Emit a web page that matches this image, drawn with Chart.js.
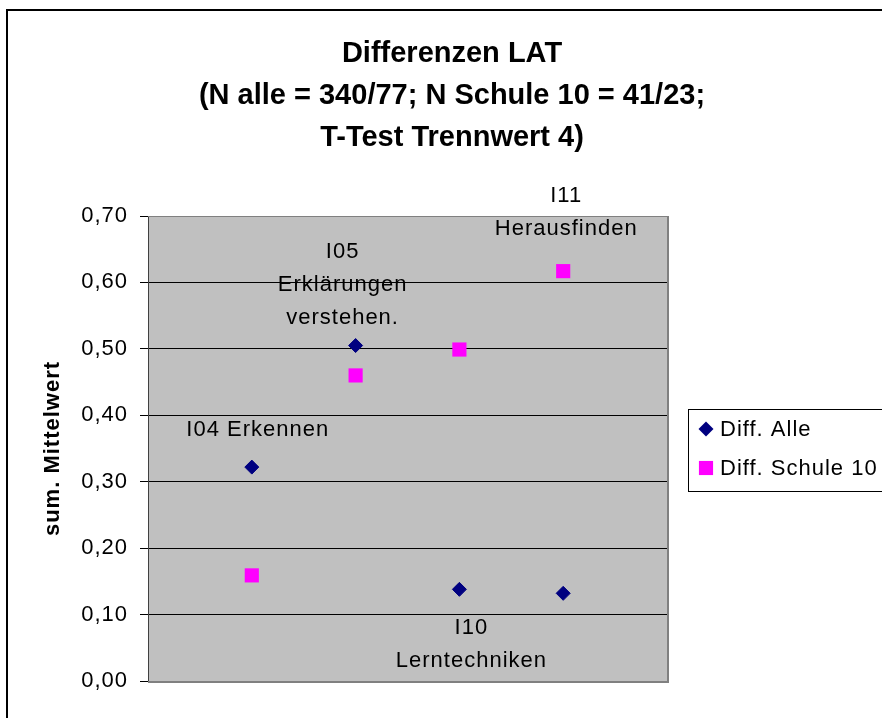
<!DOCTYPE html>
<html>
<head>
<meta charset="utf-8">
<script src="https://cdn.jsdelivr.net/npm/chart.js@4/dist/chart.umd.min.js"></script>
<style>
  html, body { margin: 0; padding: 0; background: #fff; overflow: hidden; }
  #wrap { width: 882px; height: 718px; position: relative; }
</style>
</head>
<body>
<div id="wrap"><canvas id="lat" width="882" height="718"></canvas></div>
<script>
// chart data
var titleLines = ['Differenzen LAT', '(N alle = 340/77; N Schule 10 = 41/23;', 'T-Test Trennwert 4)'];
var itemPos = [1, 2, 3, 4];
var itemLabels = [['I04 Erkennen'], ['I05', 'Erklärungen', 'verstehen.'], ['I10', 'Lerntechniken'], ['I11', 'Herausfinden']];
var diffAlle = [0.322, 0.505, 0.138, 0.132];
var diffSchule10 = [0.159, 0.460, 0.499, 0.617];
var seriesNames = ['Diff. Alle', 'Diff. Schule 10'];
var yTicks = [0, 0.1, 0.2, 0.3, 0.4, 0.5, 0.6, 0.7];
var yTitle = 'sum. Mittelwert';

// where each item label sits relative to its point (dataset, offset, above/below)
var labelPlace = [
  { ds: 0, dx: 6, dy: -37, above: true },
  { ds: 0, dx: -13, dy: -28, above: true },
  { ds: 0, dx: 12, dy: 39, above: false },
  { ds: 1, dx: 3, dy: -42, above: true }
];

Chart.defaults.font.family = "'Liberation Sans', Arial, sans-serif";
Chart.defaults.color = '#000';

function toPoints(vals) {
  return vals.map(function (v, i) { return { x: itemPos[i], y: v }; });
}

function drawMarker(ctx, style, x, y, r, color) {
  ctx.fillStyle = color;
  ctx.beginPath();
  if (style === 'rectRot') {
    r += 0.5;
    ctx.moveTo(x - r, y);
    ctx.lineTo(x, y - r);
    ctx.lineTo(x + r, y);
    ctx.lineTo(x, y + r);
  } else {
    var s = r * Math.SQRT1_2;
    ctx.rect(x - s, y - s, 2 * s, 2 * s);
  }
  ctx.closePath();
  ctx.fill();
}

var excelLook = {
  id: 'excelLook',
  beforeUpdate: function (chart) { chart.ctx.letterSpacing = '1px'; },
  beforeDraw: function (chart) {
    var ctx = chart.ctx;
    ctx.letterSpacing = '1px';
    // title: no extra spacing, centred on the whole frame
    var tb = chart.titleBlock;
    if (tb && !tb._patched) {
      var orig = tb.draw.bind(tb);
      tb.draw = function (a) {
        var c = chart.ctx;
        c.save();
        c.letterSpacing = '0px';
        c.translate(452 - (tb.left + tb.right) / 2, 0);
        orig(a);
        c.restore();
        c.letterSpacing = '1px';
      };
      tb._patched = true;
    }
    var a = chart.chartArea;
    ctx.save();
    ctx.fillStyle = '#C0C0C0';
    ctx.fillRect(a.left, a.top, a.right - a.left, a.bottom - a.top);
    ctx.restore();
  },
  beforeDatasetsDraw: function (chart) {
    var ctx = chart.ctx, a = chart.chartArea;
    ctx.save();
    ctx.strokeStyle = '#808080';
    ctx.lineWidth = 2;
    ctx.beginPath();
    ctx.moveTo(a.left, a.bottom + 1);
    ctx.lineTo(a.right + 1, a.bottom + 1);
    ctx.lineTo(a.right + 1, a.top);
    ctx.stroke();
    ctx.lineWidth = 1;
    ctx.beginPath();
    ctx.moveTo(a.left, a.top + 0.5);
    ctx.lineTo(a.right, a.top + 0.5);
    ctx.stroke();
    ctx.restore();
  },
  afterDraw: function (chart) {
    var ctx = chart.ctx;
    ctx.save();
    ctx.letterSpacing = '1px';
    ctx.font = "22px 'Liberation Sans', Arial, sans-serif";
    ctx.fillStyle = '#000';
    ctx.textAlign = 'center';
    ctx.textBaseline = 'middle';
    // item labels
    itemLabels.forEach(function (lines, i) {
      var p = labelPlace[i];
      var el = chart.getDatasetMeta(p.ds).data[i];
      var x = el.x + p.dx;
      var lh = 33;
      lines.forEach(function (t, k) {
        var y = p.above ? el.y + p.dy - (lines.length - 1 - k) * lh : el.y + p.dy + k * lh;
        ctx.fillText(t, x, y);
      });
    });
    // legend
    ctx.strokeStyle = '#000';
    ctx.lineWidth = 1;
    ctx.strokeRect(688.5, 409.5, 300, 82);
    ctx.textAlign = 'left';
    chart.data.datasets.forEach(function (ds, i) {
      var y = 429 + i * 39;
      drawMarker(ctx, ds.pointStyle, 706, y, ds.pointRadius, ds.backgroundColor);
      ctx.fillStyle = '#000';
      ctx.fillText(ds.label, 720, y + 1);
    });
    // outer frame
    ctx.lineWidth = 2;
    ctx.strokeRect(7, 10, 1000, 1000);
    ctx.restore();
  }
};

var lat = new Chart(document.getElementById('lat'), {
  type: 'scatter',
  data: {
    datasets: [{
      label: seriesNames[0],
      data: toPoints(diffAlle),
      pointStyle: 'rectRot',
      pointRadius: 7,
      backgroundColor: '#000080',
      borderColor: '#000080',
      borderWidth: 1
    }, {
      label: seriesNames[1],
      data: toPoints(diffSchule10),
      pointStyle: 'rect',
      pointRadius: 10,
      backgroundColor: '#FF00FF',
      borderColor: '#FF00FF',
      borderWidth: 0
    }]
  },
  options: {
    responsive: false,
    animation: false,
    events: [],
    layout: { padding: { left: 22, right: 215, top: 0, bottom: 37 } },
    plugins: {
      legend: { display: false },
      tooltip: { enabled: false },
      title: {
        display: true,
        text: titleLines,
        color: '#000',
        font: { size: 29, weight: 'bold', lineHeight: 42 / 29 },
        padding: { top: 33, bottom: 57 }
      }
    },
    scales: {
      x: { type: 'linear', min: 0, max: 5, display: false },
      y: {
        min: yTicks[0],
        max: yTicks[yTicks.length - 1],
        afterFit: function (s) { s.width = 126; },
        afterBuildTicks: function (s) { s.ticks = yTicks.map(function (v) { return { value: v }; }); },
        ticks: {
          padding: 12,
          color: '#000',
          font: { size: 22 },
          callback: function (v) { return v.toFixed(2).replace('.', ','); }
        },
        grid: {
          drawTicks: true,
          tickLength: 8,
          tickColor: '#000',
          lineWidth: 1,
          color: function (c) {
            var v = c.tick ? c.tick.value : 0;
            return (Math.abs(v) < 1e-6 || Math.abs(v - 0.7) < 1e-6) ? '#808080' : '#000';
          }
        },
        border: { display: true, color: '#404040', width: 1 },
        title: {
          display: true,
          text: yTitle,
          color: '#000',
          font: { size: 22, weight: 'bold' },
          padding: { top: 18, bottom: 0 }
        }
      }
    }
  },
  plugins: [excelLook]
});
</script>
</body>
</html>
